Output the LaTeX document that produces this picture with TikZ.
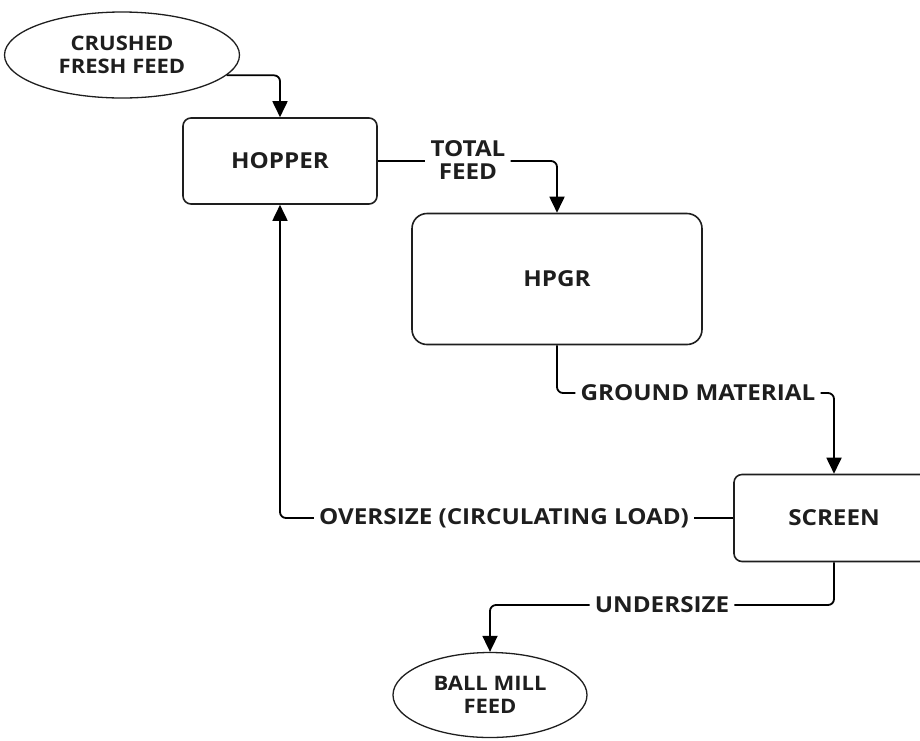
\documentclass[tikz,border=0pt]{standalone}
\usepackage{fontspec}
\setmainfont{Open Sans}[FakeStretch=1.1]
\usetikzlibrary{shapes.geometric, arrows.meta, positioning, calc}
\definecolor{tDark}{RGB}{30, 30, 30}

\begin{document}
\begin{tikzpicture}[
    x=1pt, y=-1pt,
    font=\bfseries,
    >={Triangle[length=16pt, width=15pt]},
    unit/.style={
        draw=tDark,
        line width=1.6pt,
        rounded corners=#1,
        align=center,
        text=tDark,
        font=\bfseries\fontsize{22}{24}\selectfont
    },
    stream/.style={
        ellipse,
        draw=tDark,
        line width=1.3pt,
        align=center,
        inner sep=0pt,
        text=tDark,
        font=\bfseries\fontsize{20}{23}\selectfont
    },
    flowlabel/.style={
        align=center,
        inner xsep=5pt,
        inner ysep=4pt,
        text=tDark,
        font=\bfseries\fontsize{22}{23}\selectfont
    },
    line/.style={line width=1.8pt, draw=black, rounded corners=6pt},
    arrow/.style={line, ->}
]
\useasboundingbox (0,0) rectangle (920,740);

\node[stream, minimum width=235pt, minimum height=86pt] (fresh) at (122,55) {CRUSHED\\FRESH FEED};
\node[unit=8pt, minimum width=194pt, minimum height=86pt] (hopper) at (280,161) {HOPPER};
\node[unit=15pt, minimum width=290pt, minimum height=131pt] (hpgr) at (557,279) {HPGR};
\node[unit=8pt, minimum width=200pt, minimum height=87pt] (screen) at (834,518) {SCREEN};
\node[stream, minimum width=194pt, minimum height=85pt] (ballmill) at (490,695) {BALL MILL\\FEED};

% stream labels
\node[flowlabel] (total) at (468,160) {TOTAL\\FEED};
\node[flowlabel] (ground) at (698,393) {GROUND MATERIAL};
\node[flowlabel] (over) at (504,518) {OVERSIZE (CIRCULATING LOAD)};
\node[flowlabel] (under) at (662,605) {UNDERSIZE};

\draw[arrow] (fresh.-11) -| (hopper.north);
\draw[line] (hopper.east) -- (hopper.east -| total.west);
\draw[arrow] (hopper.east -| total.east) -| (hpgr.north);
\draw[line] (hpgr.south) |- (ground.west);
\draw[arrow] (ground.east) -| (screen.north);
\draw[line] (screen.west) -- (over.east);
\draw[arrow] (over.west) -| (hopper.south);
\draw[line] (screen.south) |- (under.east);
\draw[arrow] (under.west) -| (ballmill.north);

\end{tikzpicture}
\end{document}
